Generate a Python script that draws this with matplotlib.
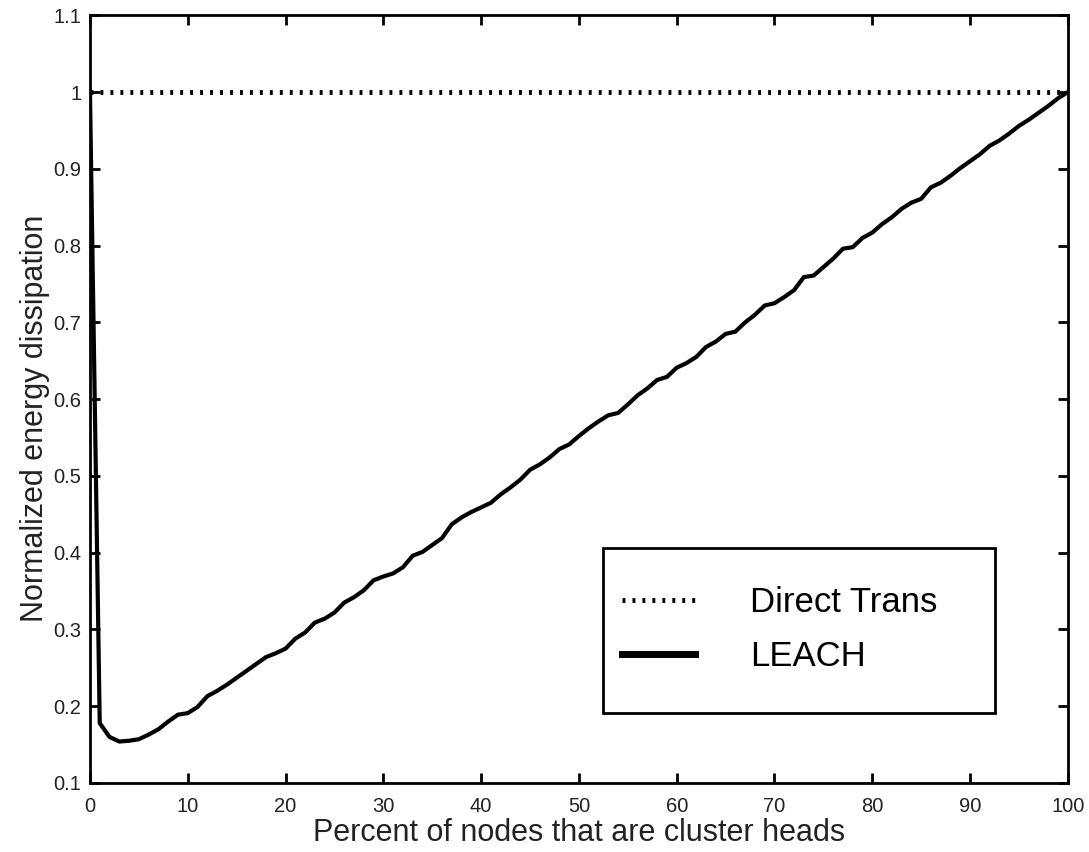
import numpy as np
import matplotlib.pyplot as plt
from matplotlib.patches import Rectangle

plt.rcParams['font.family'] = ['Liberation Sans', 'DejaVu Sans']

# percent of nodes that are cluster heads
pct = np.arange(0, 101)

# normalized energy dissipation
leach = [1.0, 0.178, 0.160, 0.154, 0.155, 0.157, 0.163, 0.170, 0.180, 0.189,
         0.191, 0.199, 0.213, 0.220, 0.228, 0.237, 0.246, 0.255, 0.264, 0.269,
         0.275, 0.288, 0.296, 0.309, 0.314, 0.322, 0.335, 0.342, 0.351, 0.364,
         0.369, 0.373, 0.381, 0.396, 0.401, 0.410, 0.419, 0.437, 0.446, 0.453,
         0.459, 0.465, 0.476, 0.485, 0.495, 0.508, 0.515, 0.524, 0.535, 0.541,
         0.552, 0.562, 0.571, 0.579, 0.582, 0.593, 0.605, 0.614, 0.625, 0.629,
         0.641, 0.647, 0.655, 0.668, 0.675, 0.685, 0.688, 0.700, 0.710, 0.722,
         0.725, 0.733, 0.742, 0.759, 0.761, 0.772, 0.783, 0.796, 0.798, 0.810,
         0.817, 0.828, 0.837, 0.848, 0.856, 0.861, 0.876, 0.882, 0.891, 0.901,
         0.910, 0.919, 0.930, 0.937, 0.946, 0.956, 0.964, 0.973, 0.982, 0.992,
         1.0]
direct = [1.0] * len(pct)

fig = plt.figure(figsize=(10.89, 8.52), dpi=100)
ax = fig.add_axes([0.0826, 0.081, 0.898, 0.901])

ax.plot(pct, direct, color='black', lw=3.5, ls=(0, (0.6, 1.45)), label='Direct Trans')
ax.plot(pct, leach, color='black', lw=3, label='LEACH')

ax.set_xlim(0, 100)
ax.set_ylim(0.1, 1.1)
ax.set_xticks(range(0, 101, 10))
ax.set_yticks(np.arange(0.1, 1.11, 0.1))
ax.set_yticklabels(['0.1', '0.2', '0.3', '0.4', '0.5', '0.6', '0.7', '0.8', '0.9', '1', '1.1'])
ax.tick_params(direction='in', length=7.5, width=2, labelsize=14.5, labelcolor='#222222',
               top=True, right=True)
ax.tick_params(axis='x', pad=10)
ax.tick_params(axis='y', pad=6)
for s in ax.spines.values():
    s.set_linewidth(2)

ax.set_xlabel('Percent of nodes that are cluster heads', fontsize=22, color='#222222')
ax.set_ylabel('Normalized energy dissipation', fontsize=22, color='#222222')
ax.xaxis.set_label_coords(0.5, -0.045)
ax.yaxis.set_label_coords(-0.041, 0.475)

# legend box
ax.add_patch(Rectangle((0.5245, 0.091), 0.4005, 0.215, transform=ax.transAxes,
                       fill=True, facecolor='white', edgecolor='black', lw=2, zorder=4))
leg = ax.legend(loc='upper left', bbox_to_anchor=(0.544, 0.2565), fontsize=25,
                frameon=False, handlelength=2.1, handletextpad=1.6, borderpad=0,
                labelspacing=0.6, borderaxespad=0)
leg.set_zorder(5)
leg.legend_handles[1].set_linewidth(5)

fig.savefig('out.png', dpi=100)
